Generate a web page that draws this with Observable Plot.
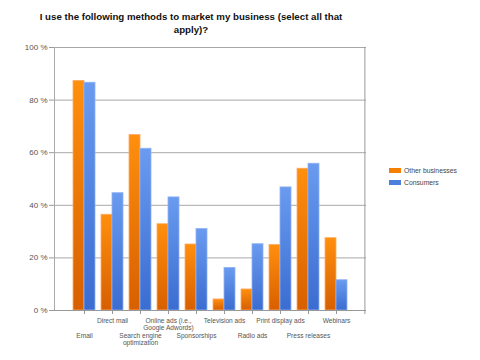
<!DOCTYPE html>
<html>
<head>
<meta charset="utf-8">
<script src="https://cdn.jsdelivr.net/npm/d3@7"></script>
<script src="https://cdn.jsdelivr.net/npm/@observablehq/plot@0.6"></script>
<style>
  html, body { margin: 0; padding: 0; background: #fff; }
  body { width: 480px; height: 360px; position: relative; overflow: hidden; font-family: "Liberation Sans", Arial, sans-serif; }
  #title { position: absolute; left: 0; width: 382px; top: 10px; text-align: center; font-weight: bold; font-size: 9.7px; line-height: 13px; color: #111; }
  #title div { white-space: nowrap; }
  #legend { position: absolute; left: 389px; top: 164px; font-size: 6.8px; color: #444; }
  .li { display: flex; align-items: center; height: 12px; }
  .sw { width: 12px; height: 5px; margin-right: 3px; }
  #chart { position: absolute; left: 0; top: 0; }
</style>
</head>
<body>
<div id="title"><div>I use the following methods to market my business (select all that</div><div>apply)?</div></div>
<div id="chart"></div>
<div id="legend"></div>
<script>
const categories = ["Email", "Direct mail", "Search engine optimization", "Online ads (i.e., Google Adwords)", "Sponsorships", "Television ads", "Radio ads", "Print display ads", "Press releases", "Webinars"];
const tickLabels = ["Email", "Direct mail", "Search engine\noptimization", "Online ads (i.e.,\nGoogle Adwords)", "Sponsorships", "Television ads", "Radio ads", "Print display ads", "Press releases", "Webinars"];
const seriesNames = ["Other businesses", "Consumers"];
const otherBusinesses = [87.3, 36.4, 66.7, 32.8, 25.1, 4.2, 8.0, 24.9, 53.9, 27.5];
const consumers = [86.6, 44.6, 61.5, 43.0, 31.0, 16.2, 25.2, 46.8, 55.8, 11.5];
const yTicks = [0, 20, 40, 60, 80, 100];
const colors = ["#f57f00", "#4a7fdc"];

const rowsOther = categories.map((c, i) => ({category: c, value: otherBusinesses[i]}));
const rowsCons = categories.map((c, i) => ({category: c, value: consumers[i]}));
const labelOf = new Map(categories.map((c, i) => [c, tickLabels[i]]));
const upper = categories.filter((c, i) => i % 2 === 1);
const lower = categories.filter((c, i) => i % 2 === 0);

const chart = Plot.plot({
  width: 480,
  height: 360,
  marginTop: 47,
  marginLeft: 54,
  marginRight: 114,
  marginBottom: 50,
  style: {fontFamily: "'Liberation Sans', Arial, sans-serif", fontSize: "6.6px", color: "#555", background: "transparent"},
  x: {domain: categories, paddingInner: 0.224, paddingOuter: 0.612, axis: null},
  y: {domain: [0, 100], axis: null},
  marks: [
    Plot.gridY(yTicks.filter(d => d > 0), {stroke: "#a8a8a8", strokeOpacity: 1}),
    Plot.barY(rowsOther, {x: "category", y: "value", fill: "url(#gOrange)", stroke: "#ffab60", strokeWidth: 0.8, insetRight: 11}),
    Plot.barY(rowsCons, {x: "category", y: "value", fill: "url(#gBlue)", stroke: "#8fb2f2", strokeWidth: 0.8, insetLeft: 11}),
    Plot.frame({anchor: "left", stroke: "#aaa"}),
    Plot.axisY({ticks: yTicks, tickSize: 5, tickPadding: 2, tickFormat: d => d + " %", stroke: "#999", fill: "#555", fontSize: 8, label: null}),
    Plot.axisX({ticks: upper, tickSize: 4, tickPadding: 3, tickFormat: d => labelOf.get(d), stroke: "#999", fill: "#555", lineHeight: 1.1, label: null}),
    Plot.axisX({ticks: lower, tickSize: 4, tickPadding: 18, tickFormat: d => labelOf.get(d), stroke: "#999", fill: "#555", lineHeight: 1.1, label: null}),
    Plot.tickX([categories[categories.length - 1]], {x: d => d, y1: 0, dx: 28.4, stroke: "#999", y2: 0, insetBottom: -4}),
    Plot.ruleY([0], {stroke: "#999", insetLeft: -5})
  ]
});

const defs = d3.select(chart).insert("defs", ":first-child");
const g1 = defs.append("linearGradient").attr("id", "gOrange").attr("x1", 0).attr("y1", 0).attr("x2", 0).attr("y2", 1);
g1.append("stop").attr("offset", "0%").attr("stop-color", "#ff8f0e");
g1.append("stop").attr("offset", "100%").attr("stop-color", "#d75f00");
const g2 = defs.append("linearGradient").attr("id", "gBlue").attr("x1", 0).attr("y1", 0).attr("x2", 0).attr("y2", 1);
g2.append("stop").attr("offset", "0%").attr("stop-color", "#6a9bf0");
g2.append("stop").attr("offset", "100%").attr("stop-color", "#3b6cd0");

document.getElementById("chart").appendChild(chart);

const legend = document.getElementById("legend");
seriesNames.forEach((n, i) => {
  const row = document.createElement("div");
  row.className = "li";
  const sw = document.createElement("span");
  sw.className = "sw";
  sw.style.background = colors[i];
  const t = document.createElement("span");
  t.textContent = n;
  row.appendChild(sw);
  row.appendChild(t);
  legend.appendChild(row);
});
</script>
</body>
</html>
